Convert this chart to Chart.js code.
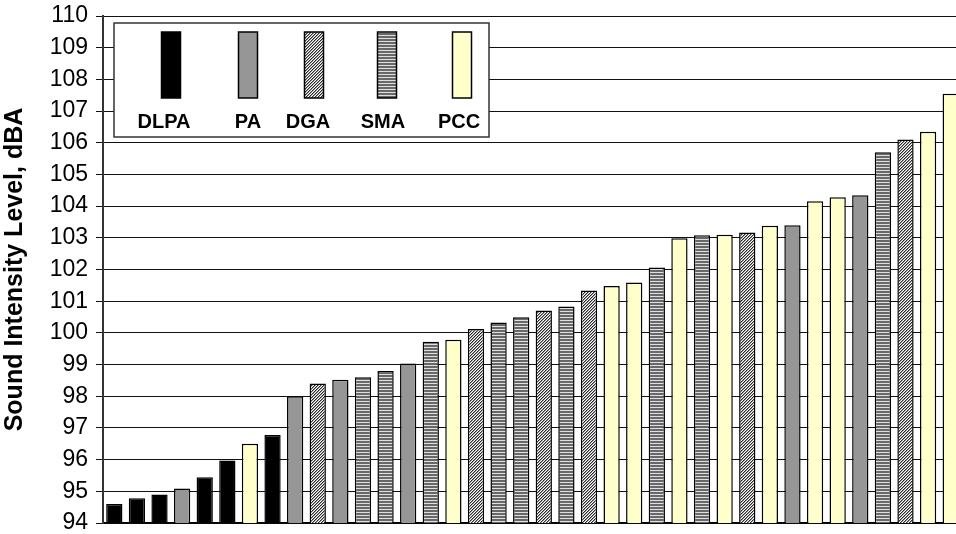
<!DOCTYPE html>
<html>
<head>
<meta charset="utf-8">
<script src="https://cdn.jsdelivr.net/npm/chart.js@4.4.0/dist/chart.umd.min.js"></script>
<style>
  html, body { margin: 0; padding: 0; background: #fff; overflow: hidden; }
</style>
</head>
<body>
<canvas id="myChart" width="962" height="534"></canvas>
<script>
// pavement types (legend order)
const mixes = ['DLPA', 'PA', 'DGA', 'SMA', 'PCC'];

// test sections, sorted by level
const sections = ['1','2','3','4','5','6','7','8','9','10','11','12','13','14','15','16','17','18','19',
                  '20','21','22','23','24','25','26','27','28','29','30','31','32','33','34','35','36','37','38'];

const sectionMix = ['DLPA','DLPA','DLPA','PA','DLPA','DLPA','PCC','DLPA','PA','DGA',
                    'PA','SMA','SMA','PA','SMA','PCC','DGA','SMA','SMA','DGA',
                    'SMA','DGA','PCC','PCC','SMA','PCC','SMA','PCC','DGA','PCC',
                    'PA','PCC','PCC','PA','SMA','DGA','PCC','PCC'];

const levels = [94.6, 94.78, 94.9, 95.09, 95.44, 95.97, 96.5, 96.78, 98.0, 98.4,
                98.52, 98.6, 98.8, 99.03, 99.72, 99.78, 100.12, 100.33, 100.49, 100.71,
                100.83, 101.34, 101.48, 101.59, 102.06, 102.99, 103.08, 103.1, 103.17, 103.38,
                103.4, 104.15, 104.28, 104.34, 105.7, 106.1, 106.35, 107.55];

const yMin = 94, yMax = 110, yStep = 1;

// fill patterns
function makePattern(w, h, paint) {
    const c = document.createElement('canvas');
    c.width = w; c.height = h;
    const g = c.getContext('2d');
    for (let y = 0; y < h; y++) {
        for (let x = 0; x < w; x++) {
            g.fillStyle = paint(x, y);
            g.fillRect(x, y, 1, 1);
        }
    }
    return document.getElementById('myChart').getContext('2d').createPattern(c, 'repeat');
}

const hatchShades = ['#2a2a2a', '#9a9a9a', '#ffffff'];

const fills = {
    DLPA: '#000000',
    PA: '#969696',
    DGA: makePattern(3, 3, (x, y) => hatchShades[(x + y) % 3]),
    SMA: makePattern(1, 3, (x, y) => (y < 2 ? '#686868' : '#e0e0e0')),
    PCC: '#ffffcc'
};

const datasets = mixes.map(m => ({
    label: m,
    data: levels.map((v, i) => (sectionMix[i] === m ? v : null)),
    backgroundColor: fills[m],
    borderColor: '#000',
    borderWidth: 1.5,
    borderSkipped: 'bottom',
    grouped: false,
    barPercentage: 0.72,
    categoryPercentage: 1
}));

// legend drawn as a boxed panel with tall swatches
const legendLayout = {
    left: 114, top: 23, right: 489, bottom: 137,
    swatchTop: 32, swatchBottom: 98, swatchWidth: 19,
    swatchX: [171, 248, 314, 387, 462],
    textX: [164, 248, 308, 383, 459],
    textY: 128
};

const boxLegend = {
    id: 'boxLegend',
    afterDraw(chart) {
        const ctx = chart.ctx;
        const L = legendLayout;
        ctx.save();
        ctx.fillStyle = '#fff';
        ctx.fillRect(L.left, L.top, L.right - L.left, L.bottom - L.top);
        ctx.strokeStyle = '#333';
        ctx.lineWidth = 1.5;
        ctx.strokeRect(L.left, L.top, L.right - L.left, L.bottom - L.top);
        chart.data.datasets.forEach((ds, i) => {
            const x0 = L.swatchX[i] - L.swatchWidth / 2;
            ctx.fillStyle = ds.backgroundColor;
            ctx.fillRect(x0, L.swatchTop, L.swatchWidth, L.swatchBottom - L.swatchTop);
            ctx.strokeStyle = '#000';
            ctx.lineWidth = 1.5;
            ctx.strokeRect(x0, L.swatchTop, L.swatchWidth, L.swatchBottom - L.swatchTop);
            ctx.fillStyle = '#000';
            ctx.font = 'bold 20px "Liberation Sans", Arial, sans-serif';
            ctx.textAlign = 'center';
            ctx.textBaseline = 'alphabetic';
            ctx.fillText(ds.label, L.textX[i], L.textY);
        });
        ctx.restore();
    }
};

const myChart = new Chart('myChart', {
    type: 'bar',
    data: {
        labels: sections,
        datasets: datasets
    },
    options: {
        responsive: false,
        animation: false,
        layout: { padding: { top: 16, right: 0, bottom: 0, left: 0 } },
        plugins: {
            legend: { display: false },
            tooltip: { enabled: false }
        },
        scales: {
            x: {
                grid: { display: false },
                ticks: { display: false },
                border: { display: true, color: '#000', width: 1.5 },
                afterFit(s) { s.height = 11; }
            },
            y: {
                min: yMin,
                max: yMax,
                ticks: {
                    stepSize: yStep,
                    color: '#000',
                    padding: 8,
                    // small lineHeight keeps the end labels from padding the plot area
                    font: { family: '"Liberation Sans", Arial, sans-serif', size: 23, lineHeight: 0.25 }
                },
                grid: { color: '#111', lineWidth: 1, tickLength: 7 },
                border: { color: '#333', width: 2 },
                title: {
                    display: true,
                    text: 'Sound Intensity Level, dBA',
                    color: '#000',
                    padding: 0,
                    font: { family: '"Liberation Sans", Arial, sans-serif', size: 25, weight: 'bold' }
                },
                afterFit(s) { s.width = 103; }
            }
        }
    },
    plugins: [boxLegend]
});
</script>
</body>
</html>
